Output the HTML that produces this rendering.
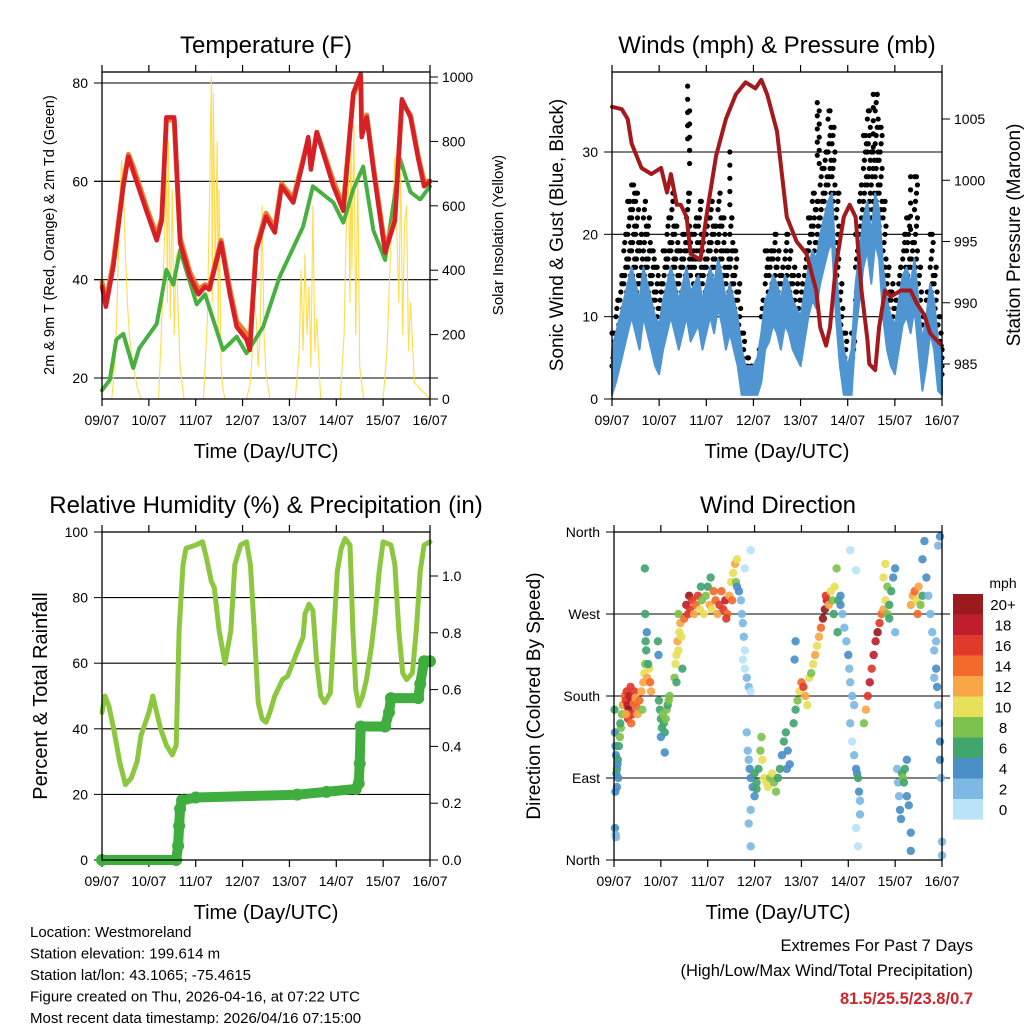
<!DOCTYPE html>
<html><head><meta charset="utf-8"><style>
body{margin:0;background:#fff;}
svg{display:block;font-family:"Liberation Sans",sans-serif;}
</style></head><body>
<svg id="c" width="1024" height="1024" viewBox="0 0 1024 1024" xmlns="http://www.w3.org/2000/svg"></svg>
<script>
// ---------- DATA ----------
const days = ["09/07","10/07","11/07","12/07","13/07","14/07","15/07","16/07"];
// Temperature
const tempHours = [0,2,5.8,10.9,13.5,16,23,28,30.6,33,37,40,45,49.4,52.8,55,61,65.5,69,74,75.7,79,84,88.5,92,98,103,105.6,107,110,118.5,123.6,128.7,132.5,133,135.6,139,145,150,153.6,158,162,165,168];
const temp2m = [38.6,34.5,42.6,59,65,62,53.7,48,52,73,73,47.5,40.6,37,38.6,38,47.5,37,30.4,27.8,25.7,46,52.8,49.6,59,55.7,64,69,62.4,70,59,54,78,81.8,69,73,62.4,45.5,52,76.7,73,64.5,59,60];
const temp9m = [39.5,35.5,43.5,59.5,65.5,63,54.5,49,52.5,72.5,72.5,48.5,41.5,38,39,38.5,48,38,31.5,29,27,46.5,53.5,50.5,59.5,56.5,64.5,68.5,63,70,60,55,77.5,81,70,73.5,63,46.5,52.5,76,73.5,65,60,60];
const dewHours = [0,4,7.3,10.9,16,19,28,33,36.5,40,48.5,52.8,62,69,74,82.5,91,103,108,118.5,123.6,128.7,133.8,139,145,152.7,158,163,168];
const dew2m = [17.5,19.6,27.8,29,22,26,31,42,39,46,35,37,25.7,28.4,25,30.4,40.6,50.8,59,55.7,51.6,58.4,63,50,44,64.5,57.8,56.3,59];
const solarHours = [0,5,7,8,9,10,11,12,13,14,16,18,20,
 29,31,32,33,33.5,34,35,36,37,38,40,42,
 52,54,55,56,56.5,57,58,59,59.5,60,61,62,63,
 74,76,77,78,79,80,81,82,83,84,86,
 99,101,102,103,104,105,106,107,108,109,110,112,
 122,124,126,127,127.5,128,129,130,131,132,134,
 144,146,148,150,152,153,154,155,156,157,158,160,168];
const solarVals = [0,0,150,350,600,740,650,450,300,200,100,40,0,
 0,300,500,700,300,800,250,650,200,450,100,0,
 0,250,600,1000,300,950,400,800,200,650,100,30,0,
 0,50,150,300,250,100,200,600,200,80,0,
 0,150,400,150,450,200,350,100,600,150,250,0,
 0,200,800,300,900,400,850,200,700,100,0,
 0,150,500,750,300,700,200,550,600,150,300,50,0];
// Winds (2-hourly, starting h0)
const windMean = [4,6,8,10,12,14, 12,10,14,12,10,8, 7,10,12,14,12,10, 12,14,11,12,13,10, 12,14,12,15,13,10, 12,10,8,4,2,2, 2,3,6,10,11,13, 12,10,13,12,10,9, 8,11,14,16,15,18, 20,22,23,14,8,4, 2,4,12,16,20,22, 18,23,21,14,10,8, 7,10,13,14,12,15, 10,5,8,12,10,5, 3];
const windGust = [8,12,15,20,24,26, 25,20,24,22,18,16, 14,18,22,25,21,18, 20,25,20,22,24,20, 22,24,21,25,22,18, 22,18,14,8,5,4, 4,6,12,18,18,20, 18,16,20,18,16,15, 14,18,22,25,24,28, 30,35,33,25,14,8, 4,8,20,26,32,35, 30,37,33,24,16,14, 12,16,20,22,19,27, 16,10,13,20,16,10, 6];
const spikeHours = [38.5,39.5,60,104.5,105.5,133,152];
const spikeGust = [38,35,30,36,35,37,27];
const presHours = [0,5,8,10,15,20,25,28,30,33,35,38,40,45,48,53,58,63,68,73,76,79,84,89,94,99,104,106,109,111,114,116,118,121,124,127,130,131,134,136,139,142,147,152,155,159,162,165,168];
const presVals = [1006,1005.8,1005,1003,1001,1000.5,1001,999,1000.5,998,998,997,994,993.5,997,1002,1005,1007,1008,1007.5,1008.2,1007,1004,997,995,994,991,988,986.5,988,993,995,997,998,997,991,987,985,984.5,988,991,990.5,991,991,990,989,987.5,987,986.5];
// Relative humidity & precipitation
const rhHours = [0,1.5,3.5,6,9,12,15,18,20,24,26,28,30,33,36,38,39.5,41.5,43,48,51.5,53.5,56,57.5,60,63,66,68,71,74,76,78,80,82,84,86,88.5,92.5,95,97,99,101,103,104,106,108,110,112,114,117,120.5,122.5,124.5,127,128.5,130,131.5,133.5,135.5,138,140,142,144,148,150,152,154,156,159,161,163,165,168];
const rhVals = [45,50,47,40,30,23,25,30,38,45,50,45,40,35,32,35,70,90,95,96,97,92,85,83,70,60,70,90,96,97,90,70,48,43,42,45,50,55,56,59,62,65,68,75,78,76,60,50,48,51,88,95,98,96,70,52,47,50,55,65,75,88,97,96,90,70,57,55,57,70,88,96,97];
const precipHours = [0,38,39,39.5,40,41,48,100,115,130,131.5,132,132.5,145,147,148,162,163,165,168];
const precipVals = [0,0,0.05,0.12,0.18,0.21,0.22,0.23,0.24,0.25,0.27,0.34,0.47,0.47,0.52,0.57,0.57,0.62,0.70,0.70];
// Wind direction scatter: hour, direction (deg), speed (mph)
const dirHours = [0.3,0.5,0.8,1,1.2,1.5,0.7,0.5,0.8,1,1.5,2,2.5,3,3.5,4,4.5,2.2,1.8,3.2,
5,5.5,6,6.5,7,7.5,8,8.5,9,9.5,10,10.5,11,11.5,12,7.2,8.8,6.2,
13,14,15,15.5,16,16.5,16.2,16,15.8,17,18,18.5,19,14.5,17.5,16.8,
23,23.5,24,24.5,25,25.5,26,26.5,27,27.5,28,28.5,24,26,22.5,22.8,
31,31.5,32,32.5,33,33.5,34,34.5,35,32,33,
36,37,38,38.5,39,40,41,42,43,44,45,46,47,48,49,50,51,52,53,54,55,56,57,58,59,60,61,62,63,60.5,57.5,44.5,49.5,62.5,
63,64,65,65.5,66,66.5,67,66,67,68,69,70,67,70,
68,68.5,69,69.5,70,71,72,73,74,75,75.5,76,77,78,79,80,81,82,83,84,85,86,87,88,89,90,88.5,72,70,69,70,73,
92,93,94,95,96,97,98,99,100,101,102,103,104,92.5,93,
105,106,107,108,109,108.5,110,111,112,113,114,112.5,114.5,115,116,
116,117,118,119,120,120.5,121,122,123,121,122,123,124,124.5,125,125.5,126,126,124,125,121,124,
128,129,130,131,132,133,134,135,136,137,138,139,140,141,138,139,140,141,142,143,144,144,
145,145.5,146,146.5,147,147.5,148,148.5,149,150,150,151,152,152,
152,153,154,155,156,155.5,157,158,
158,159,160,161,162,163,164,165,165.5,166,166.5,167,167,167.5,168,168,166,167,164,165];
const dirDeg = [165,140,125,115,95,80,75,35,28,25,100,110,125,135,145,160,170,90,105,150,
170,180,175,185,170,165,180,190,175,160,172,185,178,168,160,155,150,160,
175,185,195,205,215,230,240,270,320,200,210,195,185,165,215,250,
175,165,155,145,160,150,140,155,165,170,175,180,135,118,240,225,
200,215,225,240,230,250,260,245,210,195,270,
265,280,270,290,275,285,270,280,290,275,285,270,290,300,280,275,295,285,270,280,295,275,285,270,290,305,315,325,330,285,265,300,310,305,
300,295,285,270,260,245,230,220,210,200,190,185,320,340,
140,120,110,100,90,80,95,85,100,120,135,110,90,85,80,90,95,85,75,90,100,115,130,140,120,105,100,70,55,40,15,78,
150,165,175,185,195,190,180,170,200,205,215,225,235,220,240,
245,255,265,275,285,290,280,295,285,300,320,270,250,285,280,
290,270,255,240,225,210,195,180,170,150,130,115,100,95,90,75,65,50,35,15,340,318,
150,165,180,195,210,225,240,250,260,270,275,285,270,265,310,325,300,280,295,310,320,250,
100,85,70,55,45,95,90,85,100,110,70,60,30,10,
280,290,295,285,300,270,280,290,
330,350,310,290,270,250,230,210,190,170,150,130,110,90,20,5,345,355,200,240];
const dirSpeed = [6,4,4,4,4,4,4,4,2,2,6,7,7,8,8,8,9,5,4,7,
12,14,16,16,18,20,18,16,18,16,14,16,12,14,13,16,14,12,
14,12,12,10,9,7,6,6,6,12,10,14,12,8,6,5,
6,7,7,6,8,7,6,8,8,7,8,8,5,4,6,4,
8,10,10,12,11,10,12,10,6,6,8,
14,18,16,20,16,16,12,14,17,10,8,10,8,7,12,10,14,14,12,16,14,16,18,14,12,10,10,12,10,14,16,6,6,8,
4,4,2,2,2,2,1,1,1,2,2,1,1,1,
2,2,3,4,4,4,6,6,7,8,8,10,10,10,10,9,10,8,8,6,7,5,6,6,5,4,4,4,2,2,2,7,
6,7,8,10,14,16,12,10,10,8,10,12,10,5,4,
12,14,20,20,18,16,12,10,8,10,8,7,6,6,5,
4,3,3,3,4,2,2,2,2,2,1,2,4,5,6,4,2,2,1,1,1,1,
8,12,16,18,16,18,18,20,16,14,12,10,8,6,10,10,8,6,6,4,4,3,
3,2,3,4,4,6,8,7,6,4,4,4,4,4,
12,12,14,10,12,14,8,6,
4,4,4,3,2,2,3,4,4,3,2,4,4,3,2,2,2,4,2,2];
const cbLabels = ["20+","18","16","14","12","10","8","6","4","2","0"];
const cbColors = ["#9b1a1e","#bf1e2d","#e03a2c","#f26a2c","#f9a646","#e7e05a","#7dc24d","#42a56e","#4a8fc6","#7db9e4","#b9e3f7"];

// ---------- HELPERS ----------
const NS="http://www.w3.org/2000/svg";
const svg=document.getElementById('c');
function mk(tag,attrs,parent){const e=document.createElementNS(NS,tag);for(const k in attrs)e.setAttribute(k,attrs[k]);(parent||svg).appendChild(e);return e;}
function txt(s,x,y,size,anchor,parent,extra){const e=mk('text',Object.assign({x:x,y:y,'font-size':size,'text-anchor':anchor||'middle',fill:'#000'},extra||{}),parent);e.textContent=s;return e;}
function scale(d0,d1,r0,r1){return v=>r0+(v-d0)/(d1-d0)*(r1-r0);}
function poly(xs,ys,fx,fy,style,parent){return mk('polyline',Object.assign({points:xs.map((h,i)=>fx(h).toFixed(1)+','+fy(ys[i]).toFixed(1)).join(' '),fill:'none','stroke-linejoin':'round','stroke-linecap':'round'},style),parent);}

function panel(name,L,R,T,B,title){
  const g=mk('g',{});
  
  
  const t=txt(title,(L+R)/2,T-19,24,'middle',g);
  
  
  const fx=scale(0,168,L,R);
  days.forEach((d,i)=>{const x=fx(i*24);
    mk('line',{x1:x,x2:x,y1:B,y2:B+7,stroke:'#000','stroke-width':1.2},g);
    mk('line',{x1:x,x2:x,y1:T,y2:T-7,stroke:'#000','stroke-width':1.2},g);
    const l=txt(d,x,B+26,14,'middle',g);
    
    
  });
  const xt=txt('Time (Day/UTC)',(L+R)/2,B+59,20,'middle',g);
  
  
  return {g,fx};
}
function frame(g,L,R,T,B){mk('rect',{x:L,y:T,width:R-L,height:B-T,fill:'none',stroke:'#000','stroke-width':1.3},g);}
function yTicks(g,vals,labels,fy,L,R,side,grid){
  vals.forEach((v,i)=>{const y=fy(v);
    if(grid) mk('line',{x1:L-8,x2:R+8,y1:y,y2:y,stroke:'#000','stroke-width':1.1},g);
    if(side==='left'){mk('line',{x1:L-8,x2:L,y1:y,y2:y,stroke:'#000'},g);const t=txt(labels[i],L-14,y+5,14,'end',g);}
    else{mk('line',{x1:R,x2:R+8,y1:y,y2:y,stroke:'#000'},g);const t=txt(labels[i],R+12,y+5,14,'start',g);}
  });
}
function vtitle(g,s,x,y,size,name){const t=txt(s,0,0,size,'middle',g,{transform:`translate(${x},${y}) rotate(-90)`});}

// ---------- PANEL 1: TEMPERATURE ----------
(function(){
  const L=102,R=430,T=72,B=399;
  const p=panel('temperature-panel',L,R,T,B,'Temperature (F)');const g=p.g,fx=p.fx;
  const fy=scale(20,80,378,83), fs=scale(0,1000,399,77);
  yTicks(g,[20,40,60,80],['20','40','60','80'],fy,L,R,'left',true);
  yTicks(g,[0,200,400,600,800,1000],['0','200','400','600','800','1000'],fs,L,R,'right',false);
  const s=poly(solarHours,solarVals,fx,fs,{stroke:'#ffd83a','stroke-width':1.1,opacity:0.9},g);
  
  const d=poly(dewHours,dew2m,fx,fy,{stroke:'#48b040','stroke-width':4,'stroke-dasharray':'2 1'},g);
  
  const o=poly(tempHours,temp9m,fx,fy,{stroke:'#f07a2c','stroke-width':5},g);
  
  const r=poly(tempHours,temp2m,fx,fy,{stroke:'#d62027','stroke-width':4.5},g);
  
  frame(g,L,R,T,B);
  vtitle(g,'2m & 9m T (Red, Orange) & 2m Td (Green)',54,235,14.5,'temperature-y-axis-title');
  vtitle(g,'Solar Insolation (Yellow)',503,235,15,'solar-y-axis-title');
})();

// ---------- PANEL 2: WINDS ----------
(function(){
  const L=612,R=942,T=72,B=399;
  const p=panel('winds-panel',L,R,T,B,'Winds (mph) & Pressure (mb)');const g=p.g,fx=p.fx;
  const fy=scale(0,30,399,152), fp=scale(985,1005,364,119);
  yTicks(g,[0,10,20,30],['0','10','20','30'],fy,L,R,'left',false);
  [10,20,30].forEach(v=>mk('line',{x1:L,x2:R,y1:fy(v),y2:fy(v),stroke:'#000','stroke-width':1.1},g));
  yTicks(g,[985,990,995,1000,1005],['985','990','995','1000','1005'],fp,L,R,'right',false);
  const gg=mk('g',{},g);
  
  windGust.forEach((gv,i)=>{const h=i*2;const w=windMean[i];
    let k=0;for(let v=w;v<=gv;v+=1.0){mk('circle',{cx:fx(Math.min(168,h+(k%4)*0.5)),cy:fy(v),r:2.6,fill:'#000'},gg);k++;}
    mk('circle',{cx:fx(Math.min(168,h+1)),cy:fy(gv),r:2.6,fill:'#000'},gg);
  });
  spikeHours.forEach((h,i)=>{for(let v=spikeGust[i];v>spikeGust[i]-8;v-=1.6)mk('circle',{cx:fx(h),cy:fy(v),r:2.6,fill:'#000'},gg);});
  const wh=windMean.map((v,i)=>i*2);
  // wind band drawn between mean+2 and mean-4 mph
  const up=wh.map((h,i)=>fx(h).toFixed(1)+','+fy(windMean[i]+2).toFixed(1));
  const dn=wh.map((h,i)=>fx(h).toFixed(1)+','+fy(Math.max(0.5,windMean[i]-4)).toFixed(1)).reverse();
  const band=mk('polygon',{points:up.concat(dn).join(' '),fill:'#4f95d2',stroke:'#4f95d2','stroke-width':2,'stroke-linejoin':'round'},g);
  
  const m=poly(presHours,presVals,fx,fp,{stroke:'#a3191c','stroke-width':4},g);
  
  frame(g,L,R,T,B);
  vtitle(g,'Sonic Wind & Gust (Blue, Black)',563,235,19,'winds-y-axis-title');
  vtitle(g,'Station Pressure (Maroon)',1020,235,19,'pressure-y-axis-title');
})();

// ---------- PANEL 3: RH & PRECIP ----------
(function(){
  const L=102,R=430,T=532,B=860;
  const p=panel('humidity-panel',L,R,T,B,'Relative Humidity (%) & Precipitation (in)');const g=p.g,fx=p.fx;
  const fy=scale(0,100,860,532), fr=scale(0,1,860,576);
  yTicks(g,[0,20,40,60,80,100],['0','20','40','60','80','100'],fy,L,R,'left',false);
  [20,40,60,80].forEach(v=>mk('line',{x1:L,x2:R,y1:fy(v),y2:fy(v),stroke:'#000','stroke-width':1.1},g));
  yTicks(g,[0,0.2,0.4,0.6,0.8,1.0],['0.0','0.2','0.4','0.6','0.8','1.0'],fr,L,R,'right',false);
  const rh=poly(rhHours,rhVals,fx,fy,{stroke:'#8dc73f','stroke-width':5},g);
  
  const pr=poly(precipHours,precipVals,fx,fr,{stroke:'#3fae3f','stroke-width':10},g);
  
  precipHours.forEach((h,i)=>{const c=mk('circle',{cx:fx(h),cy:fr(precipVals[i]),r:6,fill:'#3fae3f'},g);});
  frame(g,L,R,T,B);
  vtitle(g,'Percent & Total Rainfall',47,696,20,'humidity-y-axis-title');
})();

// ---------- PANEL 4: WIND DIRECTION ----------
(function(){
  const L=614,R=942,T=532,B=860;
  const p=panel('wind-direction-panel',L,R,T,B,'Wind Direction');const g=p.g,fx=p.fx;
  const fy=scale(0,360,860,532);
  yTicks(g,[0,90,180,270,360],['North','East','South','West','North'],fy,L,R,'left',false);
  [90,180,270].forEach(v=>mk('line',{x1:L-8,x2:R+8,y1:fy(v),y2:fy(v),stroke:'#000','stroke-width':1.1},g));
  const sg=mk('g',{},g);
  
  function col(s){const idx=Math.min(10,Math.floor(s/2));return cbColors[10-idx];}
  dirHours.forEach((h,i)=>{const c=mk('circle',{cx:fx(h),cy:fy(dirDeg[i]),r:4.2,fill:col(dirSpeed[i]),opacity:0.92},sg);
    });
  frame(g,L,R,T,B);
  vtitle(g,'Direction (Colored By Speed)',540,696,19,'direction-y-axis-title');
  const cb=mk('g',{});
  
  txt('mph',1003,588,14,'middle',cb);
  cbLabels.forEach((l,i)=>{const y=594+i*20.5;mk('rect',{x:953,y:y,width:30,height:20.5,fill:cbColors[i]},cb);
    const t=txt(l,1003,y+16,15,'middle',cb);});
})();

// ---------- FOOTER ----------
const foot=["Location: Westmoreland","Station elevation: 199.614 m","Station lat/lon: 43.1065; -75.4615","Figure created on Thu, 2026-04-16, at 07:22 UTC","Most recent data timestamp: 2026/04/16 07:15:00"];
foot.forEach((s,i)=>{const t=txt(s,30,937+i*21.5,15,'start');});
let e1=txt('Extremes For Past 7 Days',973,951,16.5,'end');
let e2=txt('(High/Low/Max Wind/Total Precipitation)',973,976,16.5,'end');
let e3=txt('81.5/25.5/23.8/0.7',973,1004,16.5,'end',null,{fill:'#c8282d','font-weight':'bold'});
</script>
</body></html>
